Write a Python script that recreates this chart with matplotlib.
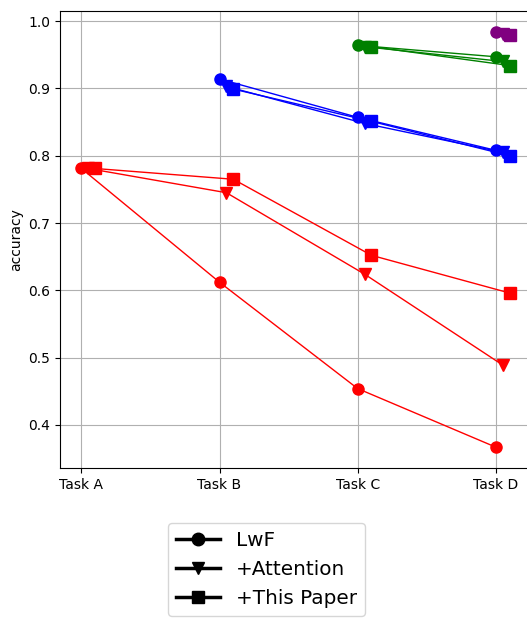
import matplotlib
matplotlib.use("Agg")
import matplotlib.pyplot as plt
from matplotlib.lines import Line2D

tasks = ["Task A", "Task B", "Task C", "Task D"]
methods = ["LwF", "+Attention", "+This Paper"]
markers = ["o", "v", "s"]
offsets = [0.0, 0.05, 0.1]

# accuracy per starting task (row = method), values start at the given task
red = [[0.781, 0.612, 0.454, 0.367],
       [0.781, 0.745, 0.624, 0.489],
       [0.781, 0.765, 0.652, 0.596]]
blue = [[0.914, 0.857, 0.808],
        [0.903, 0.848, 0.805],
        [0.899, 0.851, 0.800]]
green = [[0.964, 0.947],
         [0.962, 0.940],
         [0.962, 0.934]]
purple = [[0.984],
          [0.981],
          [0.980]]

groups = [(red, 0, "red"), (blue, 1, "blue"), (green, 2, "green"), (purple, 3, "purple")]

fig = plt.figure(figsize=(5.27, 6.21), dpi=100)
ax = fig.add_axes([60/527, (621-468)/621, 471/527, (468-11)/621])

for data, start, col in groups:
    for i, vals in enumerate(data):
        xs = [start + k + offsets[i] for k in range(len(vals))]
        ax.plot(xs, vals, color=col, marker=markers[i], markersize=8, lw=1)

ax.set_xticks(range(4))
ax.set_xticklabels(tasks)
ax.set_xlim(-0.155, 3.255)
ax.set_ylim(0.336, 1.015)
ax.set_ylabel("accuracy")
ax.grid(True)

handles = [Line2D([], [], color="black", marker=m, lw=2.5, markersize=9) for m in markers]
fig.legend(handles, methods, loc="upper center", bbox_to_anchor=(0.506, 0.174),
           fontsize=14.4, handlelength=2.2)

fig.savefig("out.png", dpi=100)
